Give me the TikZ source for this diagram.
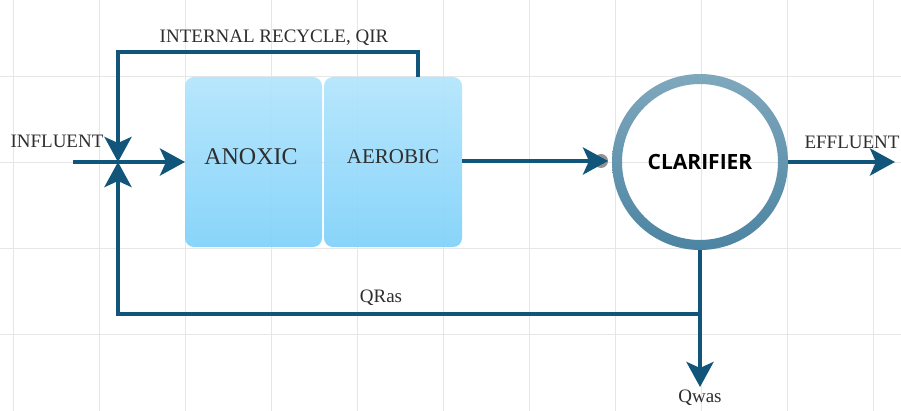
\documentclass[tikz,border=0pt]{standalone}
\usepackage{fontspec}
\setmainfont{Liberation Serif}
\newfontfamily\clarfont{Open Sans}
\usetikzlibrary{arrows.meta}
\definecolor{pipe}{HTML}{11567A}
\definecolor{gridc}{HTML}{E6E6E6}
\definecolor{boxtop}{HTML}{B2E5FC}
\definecolor{boxbot}{HTML}{7FD1FA}
\definecolor{ringtop}{HTML}{7FA8BD}
\definecolor{ringbot}{HTML}{4C84A2}
\definecolor{labelc}{HTML}{2E2E2E}
\tikzset{
  pipeline/.style={draw=pipe, line width=4.2pt},
  flowarrow/.style={pipeline, -{Stealth[length=25pt 0,width=27pt 0,inset=6pt 0]}},
  tank/.style={rounded corners=9pt, top color=boxtop, bottom color=boxbot, fill opacity=0.92, draw=none},
  lbl/.style={text=labelc, font=\fontsize{19}{22}\selectfont, inner sep=0pt},
  tanklbl/.style={text=labelc, inner sep=0pt}
}
\begin{document}
\begin{tikzpicture}[x=1pt,y=-1pt]
\useasboundingbox (0,0) rectangle (901,411);
\fill[white] (0,0) rectangle (901,411);
% grid
\foreach \gx in {13,99,185,271,357,443,529,615,701,787,873}
  \draw[gridc, line width=0.8pt] (\gx,0) -- (\gx,411);
\foreach \gy in {76,162,248,334}
  \draw[gridc, line width=0.8pt] (0,\gy) -- (901,\gy);
% tanks
\path[tank] (185,77) rectangle (322,247);
\path[tank] (324,77) rectangle (462,247);
\node[tanklbl, font=\fontsize{24}{28}\selectfont] (anoxic) at (251,157) {ANOXIC};
\node[tanklbl, font=\fontsize{21}{25}\selectfont] (aerobic) at (393,157) {AEROBIC};
\coordinate (anoxW) at (185,162);
\coordinate (aeroE) at (462,161);
\coordinate (aeroTop) at (418,77);
% clarifier
\coordinate (clc) at (700,162);
\shade[top color=ringtop, bottom color=ringbot, even odd rule] (clc) circle (88) (clc) circle (78);
\node[inner sep=0pt, font=\clarfont\bfseries\fontsize{21}{25}\selectfont] (clar) at (clc) {CLARIFIER};
\coordinate (clW) at (608,161);
\coordinate (clE) at (788,162);
\coordinate (clS) at (700,250);
% junction and corners
\coordinate (junc) at (118,162);
\coordinate (inStart) at (73,162);
\coordinate (irTR) at (418,52);
\coordinate (irTL) at (118,52);
\coordinate (rasL) at (118,314);
\coordinate (rasR) at (700,314);
\coordinate (wasEnd) at (700,387);
\coordinate (effEnd) at (895,162);
% gray connector dot
\fill[gray!85] (601,161) circle (7);
% pipes
\draw[flowarrow] (inStart) -- (anoxW);
\draw[flowarrow, line join=miter] (aeroTop) -- (irTR) -- (irTL) -- (junc);
\draw[flowarrow, line join=miter] (rasR) -- (rasL) -- (junc);
\draw[flowarrow] (aeroE) -- (clW);
\draw[flowarrow] (clE) -- (effEnd);
\draw[flowarrow] (clS) -- (wasEnd);
% labels
\node[lbl] (lir) at (274,38) {INTERNAL RECYCLE, QIR};
\node[lbl] (linf) at (57,141) {INFLUENT};
\node[lbl] (leff) at (852,142) {EFFLUENT};
\node[lbl] (lras) at (381,298) {QRas};
\node[lbl] (lwas) at (700,398) {Qwas};
\end{tikzpicture}
\end{document}
